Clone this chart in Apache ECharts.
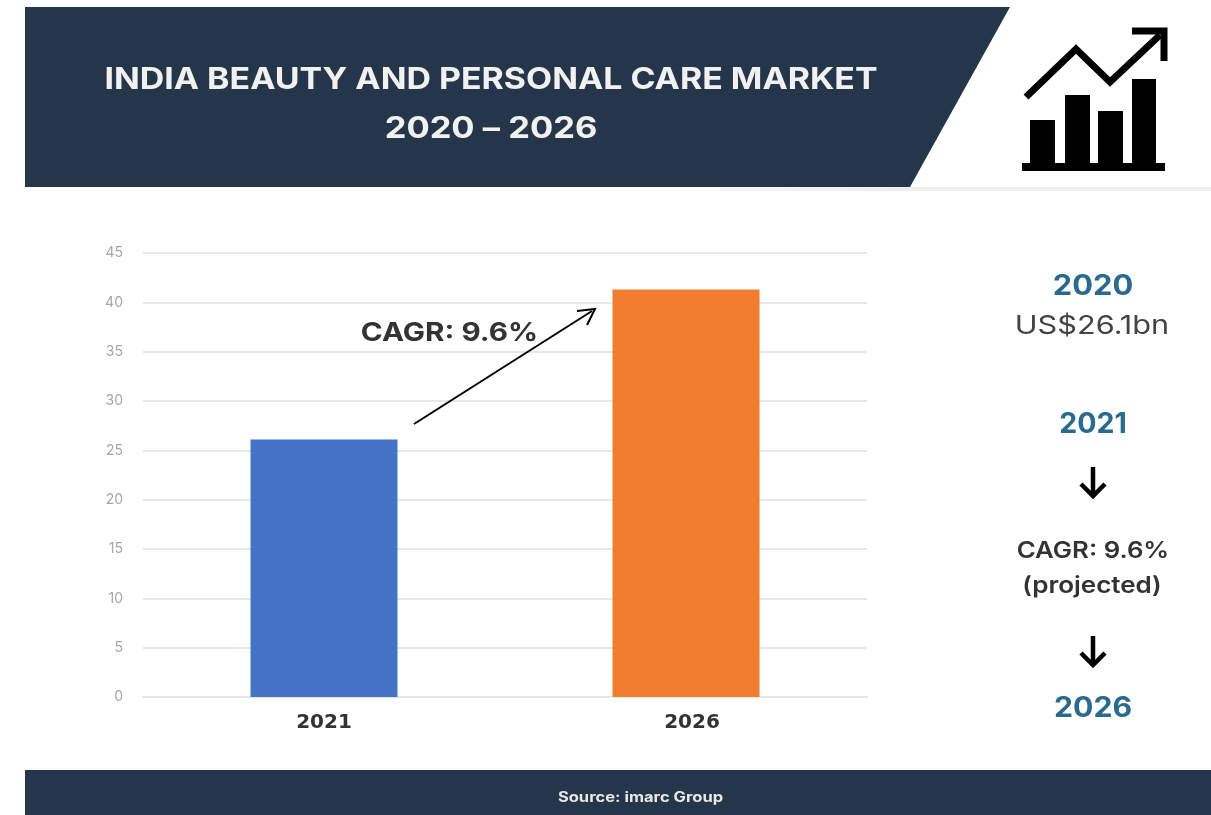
<!DOCTYPE html>
<html>
<head>
<meta charset="utf-8">
<style>html,body{margin:0;padding:0;background:#fff}#chart{width:1211px;height:815px}</style>
<script src="https://cdn.jsdelivr.net/npm/echarts@6/dist/echarts.min.js"></script>
</head>
<body>
<div id="chart"></div>
<script>
const categories = ['2021', '2026'];
const marketValues = [26.1, 41.3];
const barColors = ['#4472C4', '#F07D30'];
const axisMax = 45;
const axisStep = 5;
const titleLines = ['INDIA BEAUTY AND PERSONAL CARE MARKET', '2020 – 2026'];
const cagrLabel = 'CAGR: 9.6%';
const sourceText = 'Source: imarc Group';

const NAVY = '#26364A';
const TEAL = '#2A6A8E';
const FONT = 'Inter, "Open Sans", sans-serif';

// Centred label, stretched horizontally to get a wide geometric look
function sideText(x, y, text, size, weight, color, stretch) {
  return {
    type: 'text', x, y, z: 10, scaleX: stretch || 1,
    style: { text, fill: color, font: `${weight} ${size}px ${FONT}`, textAlign: 'center', textVerticalAlign: 'middle' }
  };
}
function stroke(points, width) {
  return {
    type: 'polyline', z: 10,
    shape: { points },
    style: { stroke: '#000', lineWidth: width, fill: null, lineJoin: 'miter' }
  };
}
function box(x, y, width, height, fill) {
  return { type: 'rect', z: 10, shape: { x, y, width, height }, style: { fill } };
}
function downArrow(x, y0, y1) {
  return [stroke([[x, y0], [x, y1]], 4.5), stroke([[x - 12, y1 - 12], [x, y1], [x + 12, y1 - 12]], 4.5)];
}

const chart = echarts.init(document.getElementById('chart'), null, { renderer: 'canvas' });
chart.setOption({
  backgroundColor: '#fff',
  animation: false,
  grid: { left: 143, right: 344, top: 253, bottom: 118, containLabel: false },
  xAxis: {
    type: 'category',
    data: categories,
    axisTick: { show: false },
    axisLine: { show: true, lineStyle: { color: '#e6e6e6', width: 2 } },
    axisLabel: {
      margin: 16,
      formatter: (value, index) => index === 0 ? `{first|${value}}` : `{second|${value}}`,
      rich: {
        first: { color: '#333', fontFamily: 'DejaVu Sans', fontWeight: 'bold', fontSize: 20 },
        second: { color: '#333', fontFamily: 'DejaVu Sans', fontWeight: 'bold', fontSize: 20, padding: [0, 0, 0, 12] }
      }
    }
  },
  yAxis: {
    type: 'value',
    min: 0,
    max: axisMax,
    interval: axisStep,
    axisLine: { show: false },
    axisTick: { show: false },
    splitLine: { lineStyle: { color: '#e8e8e8', width: 2 } },
    axisLabel: { color: '#a6a6a6', fontFamily: FONT, fontSize: 14, margin: 20 }
  },
  series: [{
    type: 'bar',
    barWidth: 147,
    data: marketValues.map((value, i) => ({ value, itemStyle: { color: barColors[i] } }))
  }],
  graphic: [
    // header band with its slanted right edge
    { type: 'polygon', z: 5, shape: { points: [[25, 7], [1010, 7], [910, 187], [25, 187]] }, style: { fill: NAVY } },
    {
      type: 'rect', z: 4, shape: { x: 720, y: 187, width: 491, height: 4 },
      style: { fill: new echarts.graphic.LinearGradient(0, 0, 1, 0, [{ offset: 0, color: '#f6f6f6' }, { offset: 0.4, color: '#eeeeee' }, { offset: 1, color: '#eeeeee' }]) }
    },
    sideText(491, 80, titleLines[0], 30, 700, '#f1f1f1', 1.13),
    sideText(491, 129, titleLines[1], 30, 700, '#f1f1f1', 1.15),

    // growth icon
    box(1030, 120, 25, 47, '#000'),
    box(1065, 95, 25, 72, '#000'),
    box(1098, 111, 25, 56, '#000'),
    box(1132, 79, 24, 88, '#000'),
    box(1022, 163, 143, 8, '#000'),
    stroke([[1026, 97], [1076, 49], [1110, 82], [1160, 35]], 7),
    stroke([[1132, 31], [1164, 31], [1164, 61]], 7),

    // growth annotation
    stroke([[414, 424], [592, 311]], 2),
    stroke([[577, 311], [595, 309], [587, 325]], 2),
    sideText(449.5, 333, cagrLabel, 26, 700, '#333', 1.14),

    // timeline on the right
    sideText(1093, 287, '2020', 28, 700, TEAL, 1.1),
    sideText(1092, 326, 'US$26.1bn', 26, 400, '#444', 1.18),
    sideText(1093, 425, '2021', 28, 700, TEAL, 1.02),
    ...downArrow(1093, 467, 496),
    sideText(1093, 551, 'CAGR: 9.6%', 23, 600, '#333', 1.12),
    sideText(1092, 586, '(projected)', 23, 600, '#333', 1.13),
    ...downArrow(1093, 636, 665),
    sideText(1093, 709, '2026', 28, 700, TEAL, 1.08),

    // footer band
    { type: 'rect', z: 5, shape: { x: 25, y: 770, width: 1186, height: 45 }, style: { fill: NAVY } },
    sideText(640.5, 798, sourceText, 14, 700, '#e8e8e8', 1.18)
  ]
});
</script>
</body>
</html>
